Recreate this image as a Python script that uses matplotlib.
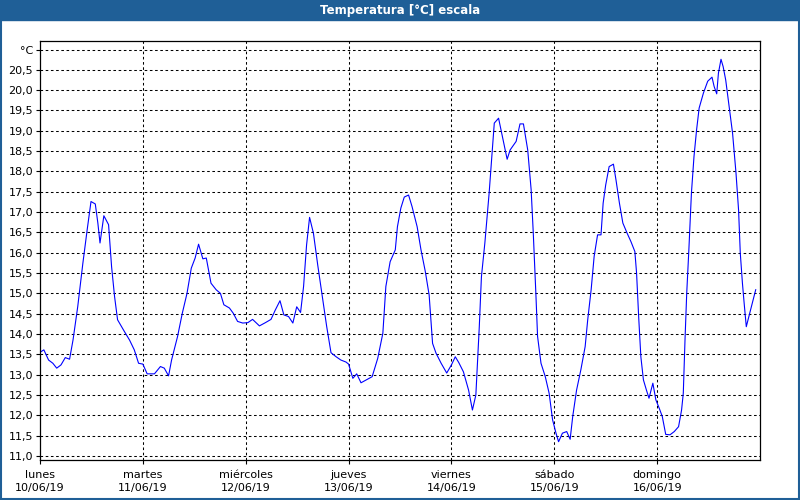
import numpy as np
import matplotlib.pyplot as plt
from matplotlib.patches import Rectangle

# hours since Mon 10/06/19 00:00 and temperature
hours = [0.0, 0.9, 2.0, 3.0, 3.9, 4.9, 5.9, 6.9, 7.7, 8.8, 10.0, 11.0, 11.9, 12.9, 13.5, 14.0,
         14.9, 16.0, 16.7, 17.4, 18.1, 19.7, 20.9, 22.0, 23.0, 24.0, 25.0, 26.7, 28.1, 29.0,
         30.0, 30.7, 32.1, 33.2, 34.3, 35.3, 36.2, 37.0, 38.0, 38.8, 39.9, 41.1, 42.1, 42.9,
         44.2, 45.1, 46.1, 47.3, 48.5, 49.6, 51.2, 52.6, 53.9, 54.9, 56.0, 56.9, 58.0, 59.0,
         59.9, 60.8, 61.5, 62.2, 62.9, 63.8, 64.8, 66.0, 66.9, 67.9, 69.1, 70.2, 71.4, 72.0,
         73.0, 73.9, 74.9, 76.1, 77.5, 78.8, 80.0, 80.7, 81.7, 82.9, 83.4, 84.2, 85.0, 86.0,
         86.8, 88.0, 88.9, 89.9, 90.8, 91.6, 92.4, 93.6, 94.9, 96.0, 96.9, 97.7, 98.8, 100.0,
         100.9, 101.7, 102.5, 103.0, 103.8, 104.8, 105.5, 106.0, 107.0, 107.9, 109.0, 109.7,
         111.1, 112.0, 112.8, 113.8, 114.6, 115.1, 115.7, 116.1, 116.9, 117.9, 118.8, 119.6,
         120.4, 121.0, 121.9, 122.9, 123.7, 124.3, 125.2, 126.2, 127.2, 127.8, 128.6, 129.3,
         130.1, 130.9, 131.4, 132.0, 132.8, 133.8, 134.4, 135.2, 136.0, 137.0, 137.9, 138.8,
         139.2, 139.7, 140.2, 140.8, 141.5, 142.1, 143.0, 143.7, 144.5, 145.2, 146.0, 147.0,
         148.0, 149.0, 149.7, 150.1, 150.5, 150.9, 151.4, 152.0, 152.6, 153.2, 153.8, 154.8,
         155.8, 156.8, 157.3, 157.9, 158.3, 158.9, 159.4, 160.0, 160.8, 161.6, 162.4, 163.0,
         163.4, 163.9, 164.3, 164.8, 165.4, 166.2, 167.0]
temps = [13.55, 13.61, 13.36, 13.28, 13.16, 13.24, 13.42, 13.38, 13.85, 14.67, 15.74, 16.56,
         17.26, 17.2, 16.73, 16.24, 16.91, 16.69, 15.66, 14.92, 14.35, 14.06, 13.85, 13.61,
         13.28, 13.26, 13.02, 13.02, 13.2, 13.16, 12.97, 13.36, 13.94, 14.51, 15.0, 15.62,
         15.87, 16.21, 15.85, 15.87, 15.25, 15.09, 15.0, 14.72, 14.64, 14.51, 14.31, 14.27,
         14.28, 14.36, 14.2, 14.28, 14.36, 14.59, 14.82, 14.47, 14.43, 14.27, 14.67, 14.53,
         15.17, 16.19, 16.87, 16.48, 15.7, 14.84, 14.18, 13.54, 13.44, 13.36, 13.31, 13.26,
         12.91, 13.02, 12.8, 12.87, 12.95, 13.4, 14.02, 15.17, 15.78, 16.07, 16.64, 17.1,
         17.37, 17.42, 17.14, 16.64, 16.07, 15.54, 14.96, 13.77, 13.53, 13.28, 13.04, 13.24,
         13.44, 13.3, 13.07, 12.62, 12.13, 12.5, 14.18, 15.41, 16.24, 17.47, 18.49, 19.19,
         19.31, 18.86, 18.3, 18.53, 18.74, 19.17, 19.17, 18.53, 17.55, 16.48, 15.0, 13.94,
         13.28, 12.95, 12.54, 11.89, 11.56, 11.35, 11.56, 11.6, 11.41, 11.97, 12.62, 13.12,
         13.69, 14.35, 15.09, 15.91, 16.44, 16.44, 17.22, 17.67, 18.12, 18.18, 17.79, 17.22,
         16.73, 16.48, 16.27, 16.03, 15.5, 14.4, 13.44, 12.87, 12.62, 12.42, 12.79, 12.38,
         12.17, 11.97, 11.53, 11.52, 11.6, 11.72, 12.13, 12.54, 13.85, 15.0, 16.07, 17.47,
         18.37, 19.02, 19.56, 19.93, 20.22, 20.32, 20.09, 19.91, 20.42, 20.76, 20.58, 20.25,
         19.6, 18.94, 17.96, 17.05, 15.99, 15.25, 14.76, 14.18, 14.43, 14.76, 15.09]

day_names = ['lunes', 'martes', 'miércoles', 'jueves', 'viernes', 'sábado', 'domingo']
day_dates = ['10/06/19', '11/06/19', '12/06/19', '13/06/19', '14/06/19', '15/06/19', '16/06/19']

y_ticks = np.arange(11.0, 21.01, 0.5)
y_labels = [f'{v:.1f}'.replace('.', ',') for v in y_ticks]
y_labels[-1] = '°C'

blue = '#1f5f97'

fig = plt.figure(figsize=(8, 5), dpi=100)
fig.patch.set_facecolor('white')

# title bar and frame
fig.patches.append(Rectangle((0, 0.96), 1, 0.04, transform=fig.transFigure, color=blue, zorder=0))
fig.patches.append(Rectangle((0.001, 0.002), 0.998, 0.997, transform=fig.transFigure,
                             fill=False, edgecolor=blue, lw=1.5))
fig.text(0.5, 0.979, 'Temperatura [°C] escala', color='white', fontsize=8.5,
         fontweight='bold', ha='center', va='center')

ax = fig.add_axes([0.05, 0.08, 0.90, 0.838])
ax.plot(hours, temps, color='#0000ff', lw=0.8)

ax.set_xlim(0, 168)
ax.set_ylim(10.9, 21.21)

ax.set_yticks(y_ticks)
ax.set_yticklabels(y_labels, fontsize=8)
ax.set_xticks(np.arange(0, 168, 24))
ax.set_xticklabels([f'{n}\n{d}' for n, d in zip(day_names, day_dates)], fontsize=8,
                   linespacing=1.45)
ax.tick_params(axis='both', length=3, width=0.8, direction='out', pad=2)
ax.tick_params(axis='x', pad=4)

for v in y_ticks:
    ax.axhline(v, color='black', lw=0.75, ls=(0, (2.5, 2.5)), zorder=0)
for d in range(24, 168, 24):
    ax.axvline(d, color='black', lw=0.75, ls=(0, (2.5, 2.5)), zorder=0)

for s in ax.spines.values():
    s.set_linewidth(0.9)
    s.set_color('black')

fig.savefig('out.png', dpi=100)
